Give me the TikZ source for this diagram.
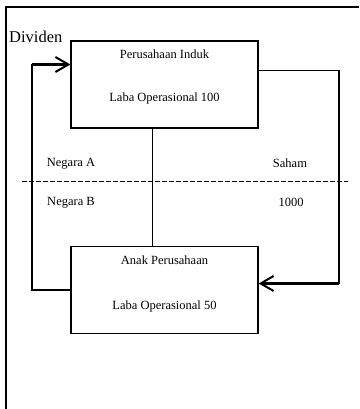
\documentclass[tikz,border=0pt]{standalone}
\usepackage{fontspec}
\setmainfont{Liberation Serif}
\usepackage{tikz}
\usetikzlibrary{
  arrows.meta,
  positioning
}

\begin{document}
\begin{tikzpicture}[
    x=1pt, y=-1pt,
    entity/.style={
      rectangle,
      draw=black,
      line width=1.2pt,
      minimum width=187pt,
      minimum height=87pt,
      inner sep=0pt
    },
    txt/.style={
      font=\fontsize{12.5}{14}\selectfont,
      inner sep=0pt
    },
    link/.style={
      line width=1.3pt,
      color=black
    },
    arrow/.style={
      -{Straight Barb[length=13pt, width=15pt, line width=2pt]},
      line width=2.2pt,
      color=black
    }
  ]
    \useasboundingbox (0,0) rectangle (359,409);

    % Outer frame (cut by the page on the right and bottom)
    \draw[line width=1.4pt] (6,409) -- (6,7) -- (359,7);

    % Parent and subsidiary
    \node[entity] (induk) at (164.5, 84.5) {};
    \node[entity] (anak)  at (164.5, 290) {};

    \node[txt] (indukname) at ([yshift=-14pt]induk.north) {Perusahaan Induk};
    \node[txt] (indukprofit) at ([yshift=30pt]induk.south) {Laba Operasional 100};
    \node[txt] (anakname) at ([yshift=-14pt]anak.north) {Anak Perusahaan};
    \node[txt] (anakprofit) at ([yshift=28pt]anak.south) {Laba Operasional 50};

    % Ownership line between the two
    \draw[link] ([xshift=-12pt]induk.south) -- ([xshift=-12pt]anak.north);

    % Country border
    \coordinate (borderL) at (22, 181.5);
    \coordinate (borderR) at (348, 181.5);
    \draw[line width=1.2pt, dash pattern=on 5pt off 2pt] (borderL) -- (borderR);

    \node[txt] (negaraA) at (71, 164) {Negara A};
    \node[txt] (negaraB) at (71, 203) {Negara B};
    \node[txt] (saham)   at (290, 163) {Saham};
    \node[txt] (jumlah)  at (291, 202) {1000};

    % Dividend flow: subsidiary -> parent
    \node[font=\fontsize{16.5}{18}\selectfont, inner sep=0pt, anchor=west] (dividen) at (9, 37) {Dividen};
    \coordinate (divturn) at (32, 64.5);
    \draw[link] (anak.west) -| (divturn);
    \draw[arrow] (divturn) -- (divturn -| induk.west);

    % Share flow: parent -> subsidiary
    \coordinate (shturn) at (339, 283.5);
    \draw[link] ([yshift=14pt]induk.east) -| (shturn);
    \draw[arrow] (shturn) -- (shturn -| anak.east);
  \end{tikzpicture}
\end{document}
